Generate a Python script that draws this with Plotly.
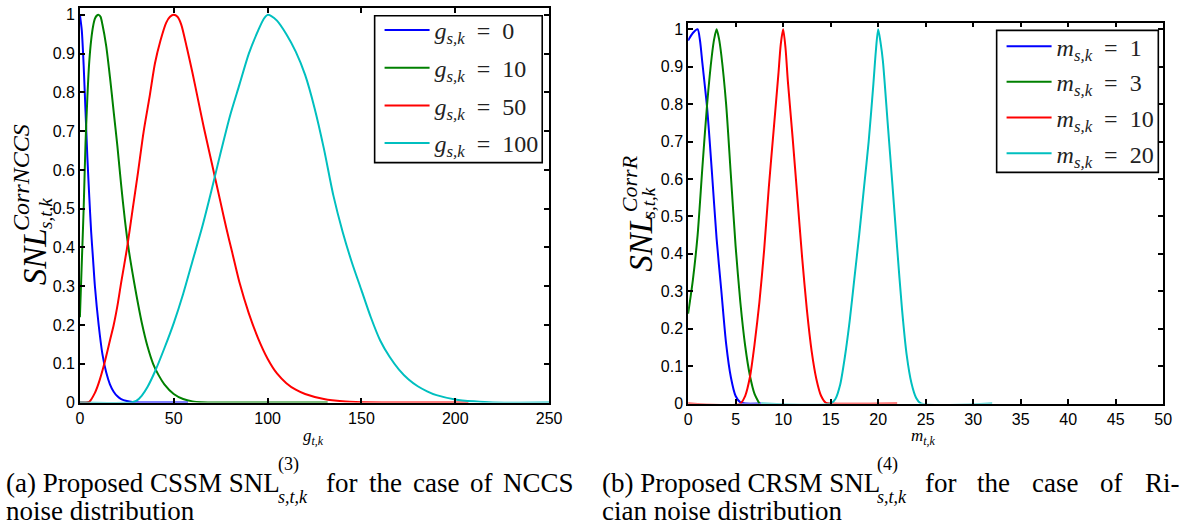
import plotly.graph_objects as go

W, H = 1193, 531

# ---- (a) CSSM SNL for NCCS noise, abscissa g_{t,k} ----
g_x0 = [0, 1, 2, 3, 4, 5, 6, 7, 8, 10, 12, 14, 16, 18, 20, 22, 25, 28, 32, 40, 50, 57.6]
snl_g0 = [1.0, 0.96, 0.87, 0.75, 0.63, 0.53, 0.44, 0.37, 0.30, 0.20, 0.125, 0.078,
          0.047, 0.028, 0.016, 0.009, 0.004, 0.0015, 0.0004, 0, 0, 0]

g_x10 = [0, 1, 2, 3, 4, 5, 6, 7, 8, 9, 10, 11, 12, 14, 16, 18, 20, 22, 24, 26, 28, 30,
         33, 36, 39, 42, 45, 50, 55, 60, 65, 80, 100, 132]
snl_g10 = [0.22, 0.36, 0.50, 0.67, 0.79, 0.88, 0.935, 0.97, 0.99, 0.998, 1.0, 0.995,
           0.975, 0.92, 0.84, 0.75, 0.66, 0.56, 0.47, 0.395, 0.335, 0.28, 0.205, 0.145,
           0.10, 0.07, 0.047, 0.022, 0.009, 0.003, 0.001, 0, 0, 0]

g_x50 = [0, 3, 5, 8, 10, 13, 16, 18, 20, 22, 25, 28, 31, 34, 37, 40, 43, 46, 48, 50, 52,
         54, 57, 60, 63, 66, 69, 72, 75, 78, 81, 85, 90, 95, 100, 105, 110, 115, 120,
         130, 140, 150, 170, 207]
snl_g50 = [0, 0, 0.002, 0.025, 0.05, 0.10, 0.16, 0.20, 0.25, 0.31, 0.395, 0.495, 0.595,
           0.70, 0.785, 0.875, 0.935, 0.98, 0.995, 1.0, 0.995, 0.975, 0.915, 0.85, 0.78,
           0.71, 0.645, 0.58, 0.515, 0.45, 0.39, 0.31, 0.23, 0.165, 0.113, 0.075, 0.05,
           0.033, 0.022, 0.009, 0.003, 0.001, 0, 0]

g_x100 = [0, 27, 30, 33, 36, 40, 45, 50, 55, 60, 65, 70, 75, 80, 85, 90, 95, 98, 100,
          102, 105, 110, 115, 120, 125, 130, 135, 140, 145, 150, 155, 160, 165, 170,
          175, 180, 185, 190, 200, 210, 220, 250]
snl_g100 = [0, 0, 0.004, 0.018, 0.04, 0.08, 0.14, 0.205, 0.28, 0.365, 0.45, 0.545,
            0.645, 0.74, 0.82, 0.90, 0.96, 0.99, 1.0, 0.997, 0.985, 0.95, 0.905, 0.845,
            0.76, 0.655, 0.535, 0.44, 0.36, 0.29, 0.22, 0.16, 0.118, 0.085, 0.06,
            0.042, 0.029, 0.019, 0.008, 0.003, 0, 0]

# ---- (b) CRSM SNL for Rician noise, abscissa m_{t,k} ----
m_x1 = [0, 0.5, 1, 1.25, 1.5, 2, 2.5, 3, 3.5, 4, 4.5, 5, 5.5, 6, 7.7]
snl_m1 = [0.97, 0.99, 1.0, 0.97, 0.91, 0.79, 0.62, 0.44, 0.30, 0.16, 0.07, 0.02, 0.003, 0, 0]

m_x3 = [0, 0.5, 1, 1.5, 2, 2.5, 2.75, 3, 3.25, 3.5, 4, 4.5, 5, 5.5, 6, 6.5, 7, 7.5]
snl_m3 = [0.24, 0.33, 0.45, 0.63, 0.80, 0.93, 0.975, 1.0, 0.975, 0.93, 0.80, 0.61, 0.42,
          0.27, 0.155, 0.075, 0.025, 0]

m_x10 = [0, 5.5, 6, 6.5, 7, 7.5, 8, 8.5, 9, 9.5, 9.75, 10, 10.25, 10.5, 11, 11.5, 12,
         12.5, 13, 13.5, 14, 14.5, 15, 22]
snl_m10 = [0, 0, 0.02, 0.07, 0.16, 0.27, 0.41, 0.58, 0.73, 0.88, 0.96, 1.0, 0.95, 0.86,
           0.71, 0.55, 0.39, 0.25, 0.14, 0.065, 0.02, 0.002, 0, 0]

m_x20 = [7.7, 15, 15.5, 16, 16.5, 17, 17.5, 18, 18.5, 19, 19.5, 19.75, 20, 20.25, 20.5,
         21, 21.5, 22, 22.5, 23, 23.5, 24, 24.5, 32]
snl_m20 = [0, 0, 0.012, 0.05, 0.125, 0.22, 0.335, 0.45, 0.575, 0.70, 0.855, 0.94, 1.0,
           0.965, 0.915, 0.75, 0.585, 0.415, 0.255, 0.13, 0.055, 0.015, 0, 0]

legend_a = ["0", "10", "50", "100"]
legend_b = ["1", "3", "10", "20"]
x_ticks_a = [0, 50, 100, 150, 200, 250]
x_ticks_b = [0, 5, 10, 15, 20, 25, 30, 35, 40, 45, 50]
y_ticks = [0, 0.1, 0.2, 0.3, 0.4, 0.5, 0.6, 0.7, 0.8, 0.9, 1]

colors = ["#0000ff", "#008000", "#ff0000", "#00bfbf"]

series_a = [(g_x0, snl_g0), (g_x10, snl_g10), (g_x50, snl_g50), (g_x100, snl_g100)]
series_b = [(m_x1, snl_m1), (m_x3, snl_m3), (m_x10, snl_m10), (m_x20, snl_m20)]

EQ = "\u2002=\u2002"
fig = go.Figure()
for i, ((xs, ys), lab) in enumerate(zip(series_a, legend_a)):
    fig.add_trace(go.Scatter(
        x=xs, y=ys, mode="lines", xaxis="x", yaxis="y", legend="legend",
        legendgroup=f"a{i}",
        line=dict(color=colors[i], width=2, shape="spline", smoothing=0.7),
        name=f"<i>g</i><sub><i>s,k</i></sub>{EQ}{lab}"))
for i, ((xs, ys), lab) in enumerate(zip(series_b, legend_b)):
    fig.add_trace(go.Scatter(
        x=xs, y=ys, mode="lines", xaxis="x2", yaxis="y2", legend="legend2",
        legendgroup=f"b{i}",
        line=dict(color=colors[i], width=2, shape="spline", smoothing=0.7),
        name=f"<i>m</i><sub><i>s,k</i></sub>{EQ}{lab}"))

tick_font = dict(family="Liberation Sans, Arial, sans-serif", size=16, color="black")
axis_common = dict(showline=True, linecolor="black", linewidth=1.6, mirror="ticks",
                   ticks="inside", ticklen=5, tickwidth=1.6, tickcolor="black",
                   showgrid=False, zeroline=False, tickfont=tick_font)


def px_x(p):
    return p / W


def px_y(p):
    return 1 - p / H


legend_font = dict(family="Liberation Serif, serif", size=24, color="#222")
fig.update_layout(
    width=W, height=H, margin=dict(l=0, r=0, t=0, b=0),
    paper_bgcolor="white", plot_bgcolor="white",
    xaxis=dict(domain=[px_x(77), px_x(553)], range=[0, 250], anchor="y",
               tickvals=x_ticks_a, **axis_common),
    yaxis=dict(domain=[px_y(409), px_y(6)], range=[0, 1.018], anchor="x",
               tickvals=y_ticks, ticktext=[f"{v:g}" for v in y_ticks], **axis_common),
    xaxis2=dict(domain=[px_x(694), px_x(1176)], range=[0, 50], anchor="y2",
                tickvals=x_ticks_b, **axis_common),
    yaxis2=dict(domain=[px_y(410), px_y(21)], range=[0, 1.018], anchor="x2",
                tickvals=y_ticks, ticktext=[f"{v:g}" for v in y_ticks], **axis_common),
    legend=dict(x=px_x(381), y=px_y(6), xanchor="left", yanchor="top",
                borderwidth=0, bgcolor="rgba(0,0,0,0)", itemwidth=45,
                font=legend_font, traceorder="grouped", tracegroupgap=3.5),
    legend2=dict(x=px_x(1012), y=px_y(22.5), xanchor="left", yanchor="top",
                 borderwidth=0, bgcolor="rgba(0,0,0,0)", itemwidth=45,
                 font=legend_font, traceorder="grouped", tracegroupgap=1.5),
    showlegend=True,
)

# legend frames
for x0, y0, x1, y1 in [(376, 14, 546, 164), (1007, 29, 1171, 174)]:
    fig.add_shape(type="rect", xref="paper", yref="paper",
                  x0=px_x(x0), x1=px_x(x1), y0=px_y(y1), y1=px_y(y0),
                  line=dict(color="black", width=1.6), fillcolor="white", layer="above")

serif = "Liberation Serif, serif"
ann = []


def note(text, x, y, size, xanchor="left", yanchor="middle", angle=0):
    ann.append(dict(text=text, x=px_x(x), y=px_y(y), xref="paper", yref="paper",
                    xanchor=xanchor, yanchor=yanchor, showarrow=False, textangle=angle,
                    font=dict(family=serif, size=size, color="black")))


# axis titles
note("<i>g</i><sub><i>t,k</i></sub>", 314, 444, 17, xanchor="center")
note("<i>m</i><sub><i>t,k</i></sub>", 933, 444, 17, xanchor="center")

note("<i>SNL</i>", 31, 260, 33, xanchor="center", angle=-90)
note("<i>CorrNCCS</i>", 18, 179, 24, xanchor="center", angle=-90)
note("<i>s,t,k</i>", 42, 216, 19, xanchor="center", angle=-90)

note("<i>SNL</i>", 646, 246, 33, xanchor="center", angle=-90)
note("<i>CorrR</i>", 634, 185, 22, xanchor="center", angle=-90)
note("<i>s,t,k</i>", 654, 205, 19, xanchor="center", angle=-90)

# sub-figure captions (first lines are justified word by word)
note("(a) Proposed CSSM SNL", 0, 491, 27)
note("(3)", 276, 472, 18)
note("<i>s,t,k</i>", 276, 505, 18)
for word, xw in zip(["for", "the", "case", "of", "NCCS"],
                    [325, 368, 412.5, 470.5, 504.5]):
    note(word, xw, 491, 27)
note("noise distribution", 0, 520, 27)

note("(b) Proposed CRSM SNL", 605, 491, 27)
note("(4)", 884, 472, 18)
note("<i>s,t,k</i>", 884, 505, 18)
for word, xw in zip(["for", "the", "case", "of", "Ri-"],
                    [932, 985.5, 1041, 1110, 1155.5]):
    note(word, xw, 491, 27)
note("cian noise distribution", 605, 520, 27)

fig.update_layout(annotations=ann)

fig.write_html("out.html")
